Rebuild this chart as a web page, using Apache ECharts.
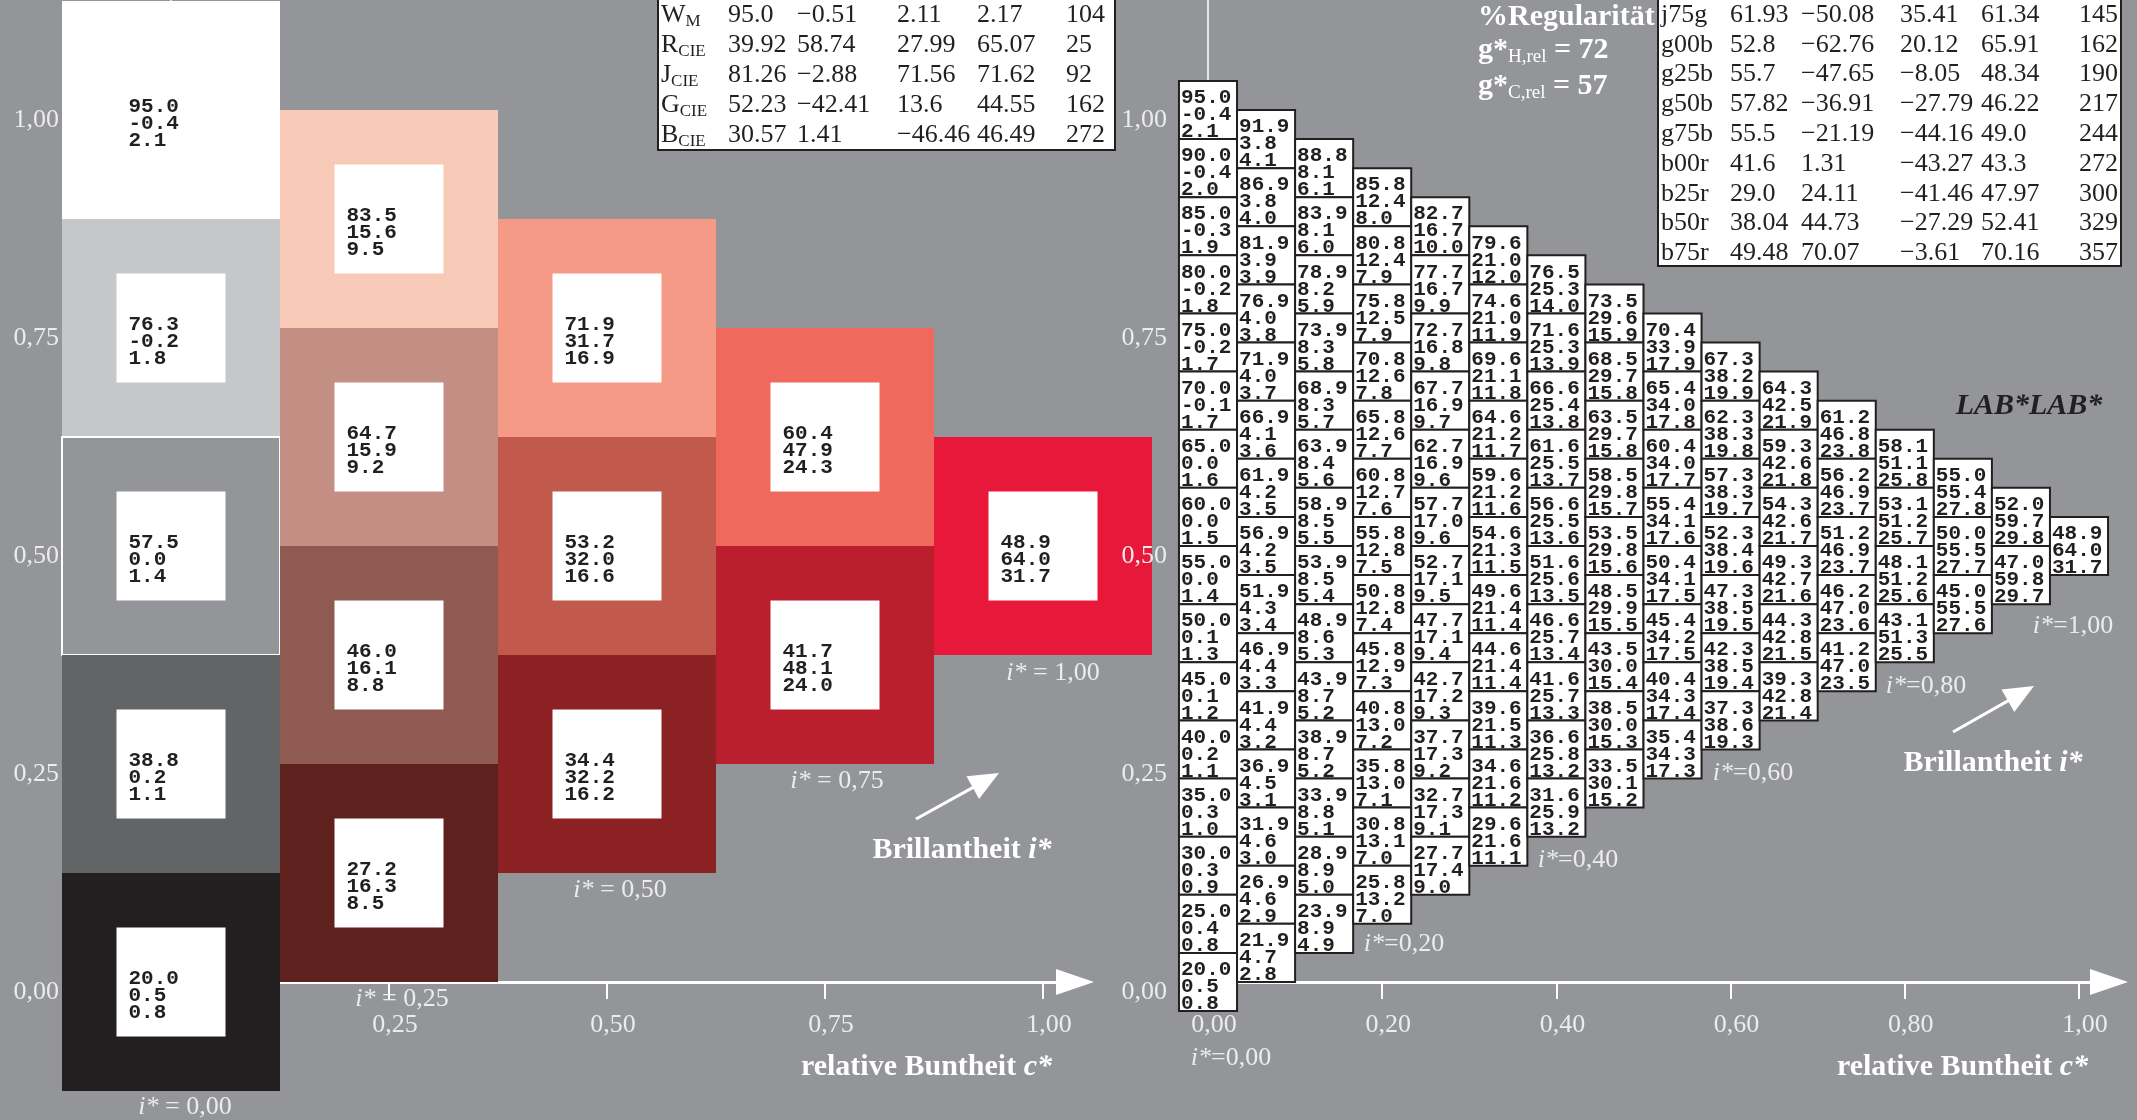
<!DOCTYPE html>
<html><head><meta charset="utf-8">
<script src="https://cdn.jsdelivr.net/npm/echarts@6/dist/echarts.min.js"></script>
<style>html,body{margin:0;padding:0;background:#939598}#c{width:2137px;height:1120px}</style>
</head><body><div id="c"></div>
<script>
// ================= DATA =================
// Left panel: 5 chroma steps (c* = 0 .. 1), cells listed top to bottom
const leftL = [[95.0, 76.3, 57.5, 38.8, 20.0], [83.5, 64.7, 46.0, 27.2], [71.9, 53.2, 34.4], [60.4, 41.7], [48.9]];
const leftA = [[-0.4, -0.2, 0.0, 0.2, 0.5], [15.6, 15.9, 16.1, 16.3], [31.7, 32.0, 32.2], [47.9, 48.1], [64.0]];
const leftB = [[2.1, 1.8, 1.4, 1.1, 0.8], [9.5, 9.2, 8.8, 8.5], [16.9, 16.6, 16.2], [24.3, 24.0], [31.7]];

// Right panel: 16 chroma steps, cells listed top to bottom
const triL = [
  [95.0, 90.0, 85.0, 80.0, 75.0, 70.0, 65.0, 60.0, 55.0, 50.0, 45.0, 40.0, 35.0, 30.0, 25.0, 20.0],
  [91.9, 86.9, 81.9, 76.9, 71.9, 66.9, 61.9, 56.9, 51.9, 46.9, 41.9, 36.9, 31.9, 26.9, 21.9],
  [88.8, 83.9, 78.9, 73.9, 68.9, 63.9, 58.9, 53.9, 48.9, 43.9, 38.9, 33.9, 28.9, 23.9],
  [85.8, 80.8, 75.8, 70.8, 65.8, 60.8, 55.8, 50.8, 45.8, 40.8, 35.8, 30.8, 25.8],
  [82.7, 77.7, 72.7, 67.7, 62.7, 57.7, 52.7, 47.7, 42.7, 37.7, 32.7, 27.7],
  [79.6, 74.6, 69.6, 64.6, 59.6, 54.6, 49.6, 44.6, 39.6, 34.6, 29.6],
  [76.5, 71.6, 66.6, 61.6, 56.6, 51.6, 46.6, 41.6, 36.6, 31.6],
  [73.5, 68.5, 63.5, 58.5, 53.5, 48.5, 43.5, 38.5, 33.5],
  [70.4, 65.4, 60.4, 55.4, 50.4, 45.4, 40.4, 35.4],
  [67.3, 62.3, 57.3, 52.3, 47.3, 42.3, 37.3],
  [64.3, 59.3, 54.3, 49.3, 44.3, 39.3],
  [61.2, 56.2, 51.2, 46.2, 41.2],
  [58.1, 53.1, 48.1, 43.1],
  [55.0, 50.0, 45.0],
  [52.0, 47.0],
  [48.9]
];
const triA = [
  [-0.4, -0.4, -0.3, -0.2, -0.2, -0.1, 0.0, 0.0, 0.0, 0.1, 0.1, 0.2, 0.3, 0.3, 0.4, 0.5],
  [3.8, 3.8, 3.9, 4.0, 4.0, 4.1, 4.2, 4.2, 4.3, 4.4, 4.4, 4.5, 4.6, 4.6, 4.7],
  [8.1, 8.1, 8.2, 8.3, 8.3, 8.4, 8.5, 8.5, 8.6, 8.7, 8.7, 8.8, 8.9, 8.9],
  [12.4, 12.4, 12.5, 12.6, 12.6, 12.7, 12.8, 12.8, 12.9, 13.0, 13.0, 13.1, 13.2],
  [16.7, 16.7, 16.8, 16.9, 16.9, 17.0, 17.1, 17.1, 17.2, 17.3, 17.3, 17.4],
  [21.0, 21.0, 21.1, 21.2, 21.2, 21.3, 21.4, 21.4, 21.5, 21.6, 21.6],
  [25.3, 25.3, 25.4, 25.5, 25.5, 25.6, 25.7, 25.7, 25.8, 25.9],
  [29.6, 29.7, 29.7, 29.8, 29.8, 29.9, 30.0, 30.0, 30.1],
  [33.9, 34.0, 34.0, 34.1, 34.1, 34.2, 34.3, 34.3],
  [38.2, 38.3, 38.3, 38.4, 38.5, 38.5, 38.6],
  [42.5, 42.6, 42.6, 42.7, 42.8, 42.8],
  [46.8, 46.9, 46.9, 47.0, 47.0],
  [51.1, 51.2, 51.2, 51.3],
  [55.4, 55.5, 55.5],
  [59.7, 59.8],
  [64.0]
];
const triB = [
  [2.1, 2.0, 1.9, 1.8, 1.7, 1.7, 1.6, 1.5, 1.4, 1.3, 1.2, 1.1, 1.0, 0.9, 0.8, 0.8],
  [4.1, 4.0, 3.9, 3.8, 3.7, 3.6, 3.5, 3.5, 3.4, 3.3, 3.2, 3.1, 3.0, 2.9, 2.8],
  [6.1, 6.0, 5.9, 5.8, 5.7, 5.6, 5.5, 5.4, 5.3, 5.2, 5.2, 5.1, 5.0, 4.9],
  [8.0, 7.9, 7.9, 7.8, 7.7, 7.6, 7.5, 7.4, 7.3, 7.2, 7.1, 7.0, 7.0],
  [10.0, 9.9, 9.8, 9.7, 9.6, 9.6, 9.5, 9.4, 9.3, 9.2, 9.1, 9.0],
  [12.0, 11.9, 11.8, 11.7, 11.6, 11.5, 11.4, 11.4, 11.3, 11.2, 11.1],
  [14.0, 13.9, 13.8, 13.7, 13.6, 13.5, 13.4, 13.3, 13.2, 13.2],
  [15.9, 15.8, 15.8, 15.7, 15.6, 15.5, 15.4, 15.3, 15.2],
  [17.9, 17.8, 17.7, 17.6, 17.5, 17.5, 17.4, 17.3],
  [19.9, 19.8, 19.7, 19.6, 19.5, 19.4, 19.3],
  [21.9, 21.8, 21.7, 21.6, 21.5, 21.4],
  [23.8, 23.7, 23.7, 23.6, 23.5],
  [25.8, 25.7, 25.6, 25.5],
  [27.8, 27.7, 27.6],
  [29.8, 29.7],
  [31.7]
];

// axis ticks
const leftXTicks = [0.25, 0.5, 0.75, 1.0];
const leftXTickLabels = ['0,25', '0,50', '0,75', '1,00'];
const rightXTicks = [0, 0.2, 0.4, 0.6, 0.8, 1.0];
const rightXTickLabels = ['0,00', '0,20', '0,40', '0,60', '0,80', '1,00'];
const yTicks = [0, 0.25, 0.5, 0.75, 1.0];
const yTickLabels = ['0,00', '0,25', '0,50', '0,75', '1,00'];

// tables
const midLabels = [['W', 'M'], ['R', 'CIE'], ['J', 'CIE'], ['G', 'CIE'], ['B', 'CIE']];
const midValues = [
  ['95.0', '\u22120.51', '2.11', '2.17', '104'],
  ['39.92', '58.74', '27.99', '65.07', '25'],
  ['81.26', '\u22122.88', '71.56', '71.62', '92'],
  ['52.23', '\u221242.41', '13.6', '44.55', '162'],
  ['30.57', '1.41', '\u221246.46', '46.49', '272']
];
const rightLabels = ['j75g', 'g00b', 'g25b', 'g50b', 'g75b', 'b00r', 'b25r', 'b50r', 'b75r'];
const rightValues = [
  ['61.93', '\u221250.08', '35.41', '61.34', '145'],
  ['52.8', '\u221262.76', '20.12', '65.91', '162'],
  ['55.7', '\u221247.65', '\u22128.05', '48.34', '190'],
  ['57.82', '\u221236.91', '\u221227.79', '46.22', '217'],
  ['55.5', '\u221221.19', '\u221244.16', '49.0', '244'],
  ['41.6', '1.31', '\u221243.27', '43.3', '272'],
  ['29.0', '24.11', '\u221241.46', '47.97', '300'],
  ['38.04', '44.73', '\u221227.29', '52.41', '329'],
  ['49.48', '70.07', '\u22123.61', '70.16', '357']
];
const gHrel = 72;
const gCrel = 57;
const leftBrillLabels = ['0,00', '0,25', '0,50', '0,75', '1,00'];
const rightBrillLabels = ['0,00', '0,20', '0,40', '0,60', '0,80', '1,00'];

// ================= STYLE =================
const BG = '#939598';
const INK = '#231f20';
const LBL = '#ececec';
const SERIF = '"Liberation Serif", "Times New Roman", serif';
const MONO = '"Liberation Mono", "Courier New", monospace';
const leftColors = [
  ['#ffffff', '#c6c7c9', '#939598', '#636466', '#231f20'],
  ['#f9c9b8', '#c38f84', '#8e5a51', '#5e211d'],
  ['#f59a86', '#c1594d', '#8b2122'],
  ['#ef6a5d', '#bb1e2d'],
  ['#e8183a']
];

const fmt = v => v.toFixed(1);

function buildCells(Ls, As, Bs, colors) {
  const n = Ls.length;
  const step = 1 / (n - 1);
  const out = [];
  Ls.forEach((col, k) => {
    const m = col.length;
    col.forEach((L, idx) => {
      const j = m - 1 - idx;
      const item = { value: [k * step, (k / 2 + j) * step, L, As[k][idx], Bs[k][idx]] };
      if (colors) item.itemStyle = { color: colors[k][idx] };
      out.push(item);
    });
  });
  return { data: out, step };
}
const leftCells = buildCells(leftL, leftA, leftB, leftColors);
const triCells = buildCells(triL, triA, triB, null);

const textStyleMono = { fontFamily: MONO, fontWeight: 'bold', fontSize: 21, lineHeight: 17, fill: INK };

function renderLeft(params, api) {
  const p = api.coord([api.value(0), api.value(1)]);
  const s = api.size([leftCells.step, leftCells.step]);
  const w = s[0], h = s[1];
  const color = api.visual('color');
  const txt = fmt(api.value(2)) + '\n' + fmt(api.value(3)) + '\n' + fmt(api.value(4));
  const outer = { type: 'rect', shape: { x: p[0] - w / 2, y: p[1] - h / 2, width: w, height: h }, style: { fill: color } };
  if (color.toLowerCase() === BG) { outer.style.stroke = '#ffffff'; outer.style.lineWidth = 2; }
  return {
    type: 'group', children: [
      outer,
      { type: 'rect', shape: { x: p[0] - w / 4, y: p[1] - h / 4, width: w / 2, height: h / 2 }, style: { fill: '#ffffff' } },
      { type: 'text', x: p[0] - w / 4 + 12, y: p[1] - 11.5,
        style: Object.assign({ text: txt, align: 'left', verticalAlign: 'top', textAlign: 'left', textVerticalAlign: 'top' }, textStyleMono) }
    ]
  };
}
function renderTri(params, api) {
  const p = api.coord([api.value(0), api.value(1)]);
  const s = api.size([triCells.step, triCells.step]);
  const w = s[0], h = s[1];
  const txt = fmt(api.value(2)) + '\n' + fmt(api.value(3)) + '\n' + fmt(api.value(4));
  return {
    type: 'group', children: [
      { type: 'rect', shape: { x: p[0] - w / 2, y: p[1] - h / 2, width: w, height: h }, style: { fill: '#ffffff', stroke: INK, lineWidth: 2 } },
      { type: 'text', x: p[0] - w / 2 + 2, y: p[1] - h / 2 + 8.5,
        style: Object.assign({ text: txt, align: 'left', verticalAlign: 'top', textAlign: 'left', textVerticalAlign: 'top' }, textStyleMono) }
    ]
  };
}

// ================= LAYOUT =================
const UNIT_L = 872, UNIT_R = 871;
const Y0 = 982;
const yMax = Y0 / UNIT_L;
const leftGrid = { left: 171, top: 0, width: 904, height: Y0 };
const rightGrid = { left: 1208, top: 0, width: 901, height: Y0 };
const leftXMax = leftGrid.width / UNIT_L;
const rightXMax = rightGrid.width / UNIT_R;

function xAxisPair(grid, max, ticks, labels) {
  const tickStyle = { color: '#ffffff', width: 2 };
  return [
    { gridIndex: grid, type: 'value', min: 0, max: max, position: 'bottom',
      axisLine: { show: true, onZero: true, lineStyle: { color: '#ffffff', width: 3 }, symbol: ['none', 'triangle'], symbolSize: [26, 38] },
      axisTick: { show: true, length: 17, lineStyle: tickStyle, customValues: ticks },
      axisLabel: { show: true, customValues: ticks, margin: 30, color: LBL, fontFamily: SERIF, fontSize: 26, padding: [0, 0, 0, 12],
        formatter: v => { const i = ticks.findIndex(t => Math.abs(t - v) < 1e-6); return i >= 0 ? labels[i] : ''; } },
      splitLine: { show: false } },
    { gridIndex: grid, type: 'value', min: 0, max: max, position: 'top',
      axisLine: { show: false, onZero: true },
      axisTick: { show: true, length: 17, lineStyle: tickStyle, customValues: ticks },
      axisLabel: { show: false }, splitLine: { show: false } }
  ];
}
function yAxisFor(grid, margin, z) {
  return { gridIndex: grid, type: 'value', min: 0, max: yMax, position: 'left', z: z,
    axisLine: { show: true, onZero: false, lineStyle: { color: '#ffffff', width: 1.5 } },
    axisTick: { show: false },
    axisLabel: { show: true, customValues: yTicks, margin: margin, color: LBL, fontFamily: SERIF, fontSize: 26,
      verticalAlign: 'top', lineHeight: 20,
      formatter: v => { const i = yTicks.findIndex(t => Math.abs(t - v) < 1e-6); return i >= 0 ? yTickLabels[i] : ''; } },
    splitLine: { show: false } };
}

// ================= ANNOTATIONS =================
function txt(x, y, text, opts) {
  const st = Object.assign({ text: text, fill: LBL, fontFamily: SERIF, fontSize: 26, align: 'center', verticalAlign: 'middle',
    textAlign: 'center', textVerticalAlign: 'middle' }, opts || {});
  if (st.align) st.textAlign = st.align;
  return { type: 'text', x: x, y: y, style: st };
}
function istar(x, y, label, spaced) {
  const base = { fontFamily: SERIF, fontSize: 26, fill: LBL };
  return txt(x, y, '{i|i*}{n|' + (spaced ? ' = ' : '=') + label + '}', {
    rich: { i: Object.assign({ fontStyle: 'italic' }, base), n: Object.assign({}, base) } });
}
function boldLabel(x, y, word, sym, align) {
  const base = { fontFamily: SERIF, fontSize: 30, fontWeight: 'bold', fill: '#ffffff' };
  return txt(x, y, '{b|' + word + ' }{i|' + sym + '}', { align: align || 'center',
    rich: { b: Object.assign({}, base), i: Object.assign({ fontStyle: 'italic' }, base) } });
}
function arrow(x1, y1, x2, y2) {
  const headLen = 30, headW = 26;
  const dx = x2 - x1, dy = y2 - y1, L = Math.hypot(dx, dy), ux = dx / L, uy = dy / L, nx = -uy, ny = ux;
  const bx = x2 - ux * headLen, by = y2 - uy * headLen;
  return [
    { type: 'line', shape: { x1: x1, y1: y1, x2: bx + ux * 2, y2: by + uy * 2 }, style: { stroke: '#ffffff', lineWidth: 3 } },
    { type: 'polygon', shape: { points: [[x2, y2], [bx + nx * headW / 2, by + ny * headW / 2], [bx - nx * headW / 2, by - ny * headW / 2]] }, style: { fill: '#ffffff' } }
  ];
}
function table(x0, y0, x1, y1, colX, rowY, labelTexts, values) {
  const base = { fontFamily: SERIF, fontSize: 26, fill: INK };
  const els = [{ type: 'rect', shape: { x: x0, y: y0, width: x1 - x0, height: y1 - y0 }, style: { fill: '#ffffff', stroke: INK, lineWidth: 2 } }];
  rowY.forEach((y, r) => {
    const lab = labelTexts[r];
    if (Array.isArray(lab)) {
      els.push(txt(colX[0], y, '{m|' + lab[0] + '}{s|' + lab[1] + '}', { align: 'left', fill: INK,
        rich: { m: Object.assign({ lineHeight: 30 }, base), s: Object.assign({}, base, { fontSize: 17, lineHeight: 16, verticalAlign: 'bottom' }) } }));
    } else {
      els.push(txt(colX[0], y, lab, Object.assign({ align: 'left' }, base)));
    }
    values[r].forEach((v, c) => els.push(txt(colX[c + 1], y, v, Object.assign({ align: 'left' }, base))));
  });
  return els;
}

const graphics = [];
// left panel labels
const leftLabelPos = [[185, 1107], [402, 999], [620, 890], [837, 781], [1053, 673]];
leftBrillLabels.forEach((l, i) => graphics.push(istar(leftLabelPos[i][0], leftLabelPos[i][1], l, true)));
// right panel labels
const rightLabelPos = [[1231, 1058], [1404, 944], [1578, 860], [1753, 773], [1926, 686], [2073, 626]];
rightBrillLabels.forEach((l, i) => graphics.push(istar(rightLabelPos[i][0], rightLabelPos[i][1], l, false)));
graphics.push(...arrow(916, 819, 999, 773));
graphics.push(...arrow(1953, 732, 2034, 686));
graphics.push(boldLabel(962, 850, 'Brillantheit', 'i*'));
graphics.push(boldLabel(1993, 763, 'Brillantheit', 'i*'));
graphics.push(boldLabel(1052, 1067, 'relative Buntheit', 'c*', 'right'));
graphics.push(boldLabel(2088, 1067, 'relative Buntheit', 'c*', 'right'));
graphics.push(txt(2029, 406, 'LAB*LAB*', { fill: INK, fontWeight: 'bold', fontStyle: 'italic', fontSize: 30 }));
// titles
const bold30 = { fontFamily: SERIF, fontSize: 30, fontWeight: 'bold', fill: '#ffffff' };
graphics.push(txt(1478, 17, '%Regularit\u00e4t', Object.assign({ align: 'left' }, bold30)));
graphics.push(txt(1478, 50, '{b|g*}{s|H,rel}{b| = ' + gHrel + '}', { align: 'left',
  rich: { b: Object.assign({ lineHeight: 34 }, bold30), s: { fontFamily: SERIF, fontSize: 19, fill: '#ffffff', lineHeight: 18, verticalAlign: 'bottom' } } }));
graphics.push(txt(1478, 86, '{b|g*}{s|C,rel}{b| = ' + gCrel + '}', { align: 'left',
  rich: { b: Object.assign({ lineHeight: 34 }, bold30), s: { fontFamily: SERIF, fontSize: 19, fill: '#ffffff', lineHeight: 18, verticalAlign: 'bottom' } } }));
// tables
graphics.push(...table(658, -4, 1115, 150, [661, 728, 797, 897, 977, 1066], [15, 45, 75, 105, 135], midLabels, midValues));
graphics.push(...table(1658, -4, 2121, 266, [1661, 1730, 1801, 1900, 1981, 2079],
  rightLabels.map((_, i) => 15 + i * 29.8), rightLabels, rightValues));

// ================= CHART =================
const chart = echarts.init(document.getElementById('c'), null, { renderer: 'canvas', width: 2137, height: 1120 });
chart.setOption({
  backgroundColor: BG,
  animation: false,
  grid: [leftGrid, rightGrid],
  xAxis: [...xAxisPair(0, leftXMax, leftXTicks, leftXTickLabels), ...xAxisPair(1, rightXMax, rightXTicks, rightXTickLabels)],
  yAxis: [yAxisFor(0, 112, 0), yAxisFor(1, 41, 10)],
  series: [
    { type: 'custom', xAxisIndex: 0, yAxisIndex: 0, clip: false, data: leftCells.data, renderItem: renderLeft, z: 5 },
    { type: 'custom', xAxisIndex: 2, yAxisIndex: 1, clip: false, data: triCells.data, renderItem: renderTri, z: 15 }
  ],
  graphic: { elements: graphics.map(e => Object.assign({ z: 100 }, e)) }
});
</script>
</body></html>
